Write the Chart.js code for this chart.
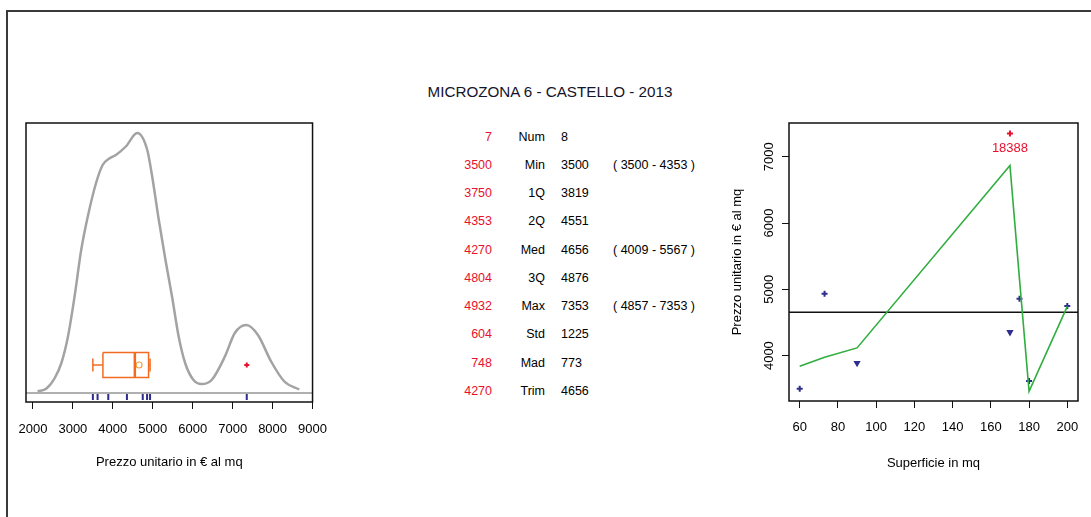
<!DOCTYPE html>
<html>
<head>
<meta charset="utf-8">
<script src="https://cdn.jsdelivr.net/npm/chart.js@4.4.1/dist/chart.umd.min.js"></script>
<style>
  html, body { margin: 0; padding: 0; background: #fff; }
  #page { position: relative; width: 1091px; height: 517px; overflow: hidden;
          font-family: 'Liberation Sans', Arial, sans-serif; }
  #frame { position: absolute; left: 6px; top: 10px; width: 1100px; height: 520px;
           border-left: 2px solid #3a3a3a; border-top: 2px solid #3a3a3a; }
  #title { position: absolute; left: 350px; width: 400px; top: 82px; text-align: center;
           font-size: 15.2px; line-height: 20px; color: #14142a; }
  .box { position: absolute; }
  #tbl div { position: absolute; font-size: 12.5px; line-height: 16px; white-space: pre; }
  #tbl .red { color: #e8112d; text-align: right; width: 70px; }
  #tbl .lab { color: #000; text-align: right; width: 60px; }
  #tbl .val { color: #000; }
</style>
</head>
<body>
<div id="page">
  <div id="frame"></div>
  <div id="title">MICROZONA 6 - CASTELLO - 2013</div>
  <div id="tbl"></div>
  <div class="box" style="left:0;top:100px;width:340px;height:390px"><canvas id="dens" width="340" height="390"></canvas></div>
  <div class="box" style="left:700px;top:100px;width:391px;height:390px"><canvas id="scat" width="391" height="390"></canvas></div>
</div>
<script>
// ---- summary table ----
const statLabels      = ['Num', 'Min', '1Q', '2Q', 'Med', '3Q', 'Max', 'Std', 'Mad', 'Trim'];
const statsNoOutlier  = [7, 3500, 3750, 4353, 4270, 4804, 4932, 604, 748, 4270];
const statsAll        = [8, 3500, 3819, 4551, 4656, 4876, 7353, 1225, 773, 4656];
const statIntervals   = ['', '( 3500 - 4353 )', '', '', '( 4009 - 5567 )', '', '( 4857 - 7353 )', '', '', ''];

// ---- unit prices (all observations) ----
const prices = [3500, 3618, 3886, 4353, 4749, 4857, 4932, 7353];

// ---- kernel density of unit prices (density x 1e6) ----
const densX = [2117, 2339, 2546, 2712, 2877, 3042, 3208, 3373, 3580, 3745, 3911, 4077, 4325, 4610,
               4862, 4985, 5151, 5318, 5482, 5648, 5814, 6020, 6220, 6474, 6806, 7054, 7342, 7633,
               7963, 8295, 8667];
const densY = [3, 9, 30, 60, 113, 193, 286, 353, 420, 456, 469, 476, 493, 520,
               486, 433, 346, 266, 193, 113, 59, 26, 18, 26, 73, 120, 136, 116,
               63, 23, 7];

// ---- boxplot: whisker low, lower hinge, median, upper hinge, whisker high ----
const boxStats = [3500, 3752, 4551, 4894.5, 4932];
const boxMean = 4656;
const boxOutliers = [7353];

// ---- surface vs unit price ----
const surfaces    = [60, 73, 90, 170, 175, 180, 200];
const surfPrices  = [3500, 4932, 3886, 4353, 4857, 3618, 4749];
const outlierSurf = 170, outlierPrice = 7353, outlierId = '18388';
const fitX = [60, 73, 90, 170, 175, 180, 200];
const fitY = [3839, 3975, 4116, 6869, 5150, 3462, 4744];
const meanPrice = 4656;

// ---- tick labels ----
const priceTicks   = [2000, 3000, 4000, 5000, 6000, 7000, 8000, 9000];
const surfaceTicks = [60, 80, 100, 120, 140, 160, 180, 200];
const scatterYTicks = [4000, 5000, 6000, 7000];

// build the table
const tbl = document.getElementById('tbl');
statLabels.forEach((lab, i) => {
  const yc = 136.7 + i * 28.25, top = (yc - 8) + 'px';
  const add = (cls, txt, left) => {
    const d = document.createElement('div');
    d.className = cls; d.textContent = txt; d.style.left = left + 'px'; d.style.top = top;
    tbl.appendChild(d);
  };
  add('red', String(statsNoOutlier[i]), 492 - 70);
  add('lab', lab, 545 - 60);
  add('val', String(statsAll[i]), 561);
  if (statIntervals[i]) add('val', statIntervals[i], 613);
});

Chart.defaults.font.family = "'Liberation Sans', Arial, sans-serif";
Chart.defaults.font.size = 13;
Chart.defaults.color = '#000';

const frame = {
  id: 'frame',
  afterDraw(chart) {
    const { ctx, chartArea: a } = chart;
    ctx.save();
    ctx.strokeStyle = '#111'; ctx.lineWidth = 1.5;
    ctx.strokeRect(a.left, a.top, a.right - a.left, a.bottom - a.top);
    ctx.restore();
  }
};

const tickGrid = { display: true, drawOnChartArea: false, drawTicks: true, tickLength: 7, color: '#111', lineWidth: 1 };
const line = (data, color, width, extra) => Object.assign({
  data, showLine: true, borderColor: color, backgroundColor: color, borderWidth: width,
  pointRadius: 0, fill: false, tension: 0
}, extra || {});

// ---- density + boxplot + rug ----
const orange = '#f26b21';
const bc = 56, bh = 25, ch = 13;   // boxplot centre, half height, cap half height (density units)
const densData = densX.map((x, i) => ({ x, y: densY[i] }));
new Chart(document.getElementById('dens'), {
  type: 'scatter',
  data: {
    datasets: [
      line(densData, '#a3a3a3', 2.5, { cubicInterpolationMode: 'monotone' }),
      line([{ x: 1826, y: 0 }, { x: 9000, y: 0 }], '#b0b0b0', 2),
      line([{ x: boxStats[1], y: bc + bh }, { x: boxStats[3], y: bc + bh }, { x: boxStats[3], y: bc - bh },
            { x: boxStats[1], y: bc - bh }, { x: boxStats[1], y: bc + bh }], orange, 1.5),
      line([{ x: boxStats[2], y: bc + bh }, { x: boxStats[2], y: bc - bh }], orange, 2.5),
      line([{ x: boxStats[0], y: bc }, { x: boxStats[1], y: bc }], orange, 1.5),
      line([{ x: boxStats[3], y: bc }, { x: boxStats[4], y: bc }], orange, 1.5),
      line([{ x: boxStats[0], y: bc + ch }, { x: boxStats[0], y: bc - ch }], orange, 1.5),
      line([{ x: boxStats[4], y: bc + ch }, { x: boxStats[4], y: bc - ch }], orange, 1.5),
      { data: [{ x: boxMean, y: bc }], pointStyle: 'circle', pointRadius: 3, borderWidth: 1.2,
        borderColor: '#f2a33a', backgroundColor: 'rgba(0,0,0,0)' },
      { data: boxOutliers.map(v => ({ x: v, y: bc })), pointStyle: 'cross', pointRadius: 2.5,
        borderWidth: 2, borderColor: '#e8112d' },
      { data: prices.map(v => ({ x: v, y: -7 })), pointStyle: 'line', rotation: 90, pointRadius: 3.5,
        borderWidth: 2, borderColor: '#2b2b8c' }
    ]
  },
  options: {
    responsive: false, animation: false, events: [],
    layout: { padding: { left: 26, top: 23, right: 25, bottom: 0 } },
    plugins: { legend: { display: false }, tooltip: { enabled: false } },
    scales: {
      x: {
        type: 'linear', min: 1826, max: 9000,
        afterBuildTicks: s => { s.ticks = priceTicks.map(v => ({ value: v })); },
        afterFit: s => { s.height = 88; },
        grid: tickGrid, border: { display: false },
        ticks: { padding: 13, maxRotation: 0, autoSkip: false, callback: v => String(v) },
        title: { display: true, text: 'Prezzo unitario in € al mq', padding: { top: 0, bottom: 20 } }
      },
      y: { display: false, min: -18, max: 540 }
    }
  },
  plugins: [frame]
});

// ---- surface vs unit price ----
const scatterText = {
  id: 'scatterText',
  afterDraw(chart) {
    const { ctx, scales: { x, y }, chartArea } = chart;
    ctx.save();
    ctx.font = "13px 'Liberation Sans', Arial, sans-serif";
    ctx.textAlign = 'center'; ctx.textBaseline = 'middle';
    ctx.fillStyle = '#000';
    scatterYTicks.forEach(v => {
      ctx.save();
      ctx.translate(chartArea.left - 20, y.getPixelForValue(v));
      ctx.rotate(-Math.PI / 2);
      ctx.fillText(String(v), 0, 0);
      ctx.restore();
    });
    ctx.fillStyle = '#e8112d';
    ctx.fillText(outlierId, x.getPixelForValue(outlierSurf), y.getPixelForValue(outlierPrice) + 15);
    ctx.restore();
  }
};

const blue = '#2e2e8f';
new Chart(document.getElementById('scat'), {
  type: 'scatter',
  data: {
    datasets: [
      line(fitX.map((x, i) => ({ x, y: fitY[i] })), '#2fae3f', 1.6),
      line([{ x: 54.4, y: meanPrice }, { x: 205.6, y: meanPrice }], '#111', 1.5),
      { data: surfaces.map((x, i) => ({ x, y: surfPrices[i] })),
        pointStyle: ['cross', 'cross', 'triangle', 'triangle', 'cross', 'cross', 'cross'],
        rotation: [0, 0, 180, 180, 0, 0, 0],
        pointRadius: [3, 3, 2.2, 2.2, 3, 3, 3], borderWidth: 2, borderColor: blue, backgroundColor: blue },
      { data: [{ x: outlierSurf, y: outlierPrice }], pointStyle: 'cross', pointRadius: 3,
        borderWidth: 2, borderColor: '#e8112d' }
    ]
  },
  options: {
    responsive: false, animation: false, events: [],
    layout: { padding: { left: 0, top: 23, right: 13, bottom: 0 } },
    plugins: { legend: { display: false }, tooltip: { enabled: false } },
    scales: {
      x: {
        type: 'linear', min: 54.4, max: 205.6,
        afterBuildTicks: s => { s.ticks = surfaceTicks.map(v => ({ value: v })); },
        afterFit: s => { s.height = 89; },
        grid: tickGrid, border: { display: false },
        ticks: { padding: 12, maxRotation: 0, autoSkip: false, callback: v => String(v) },
        title: { display: true, text: 'Superficie in mq', padding: { top: 0, bottom: 19 } }
      },
      y: {
        type: 'linear', min: 3315, max: 7510,
        afterBuildTicks: s => { s.ticks = scatterYTicks.map(v => ({ value: v })); },
        afterFit: s => { s.width = 89; },
        grid: tickGrid, border: { display: false },
        ticks: { display: false },
        title: { display: true, text: 'Prezzo unitario in € al mq', padding: { top: 30, bottom: 0 } }
      }
    }
  },
  plugins: [frame, scatterText]
});
</script>
</body>
</html>
